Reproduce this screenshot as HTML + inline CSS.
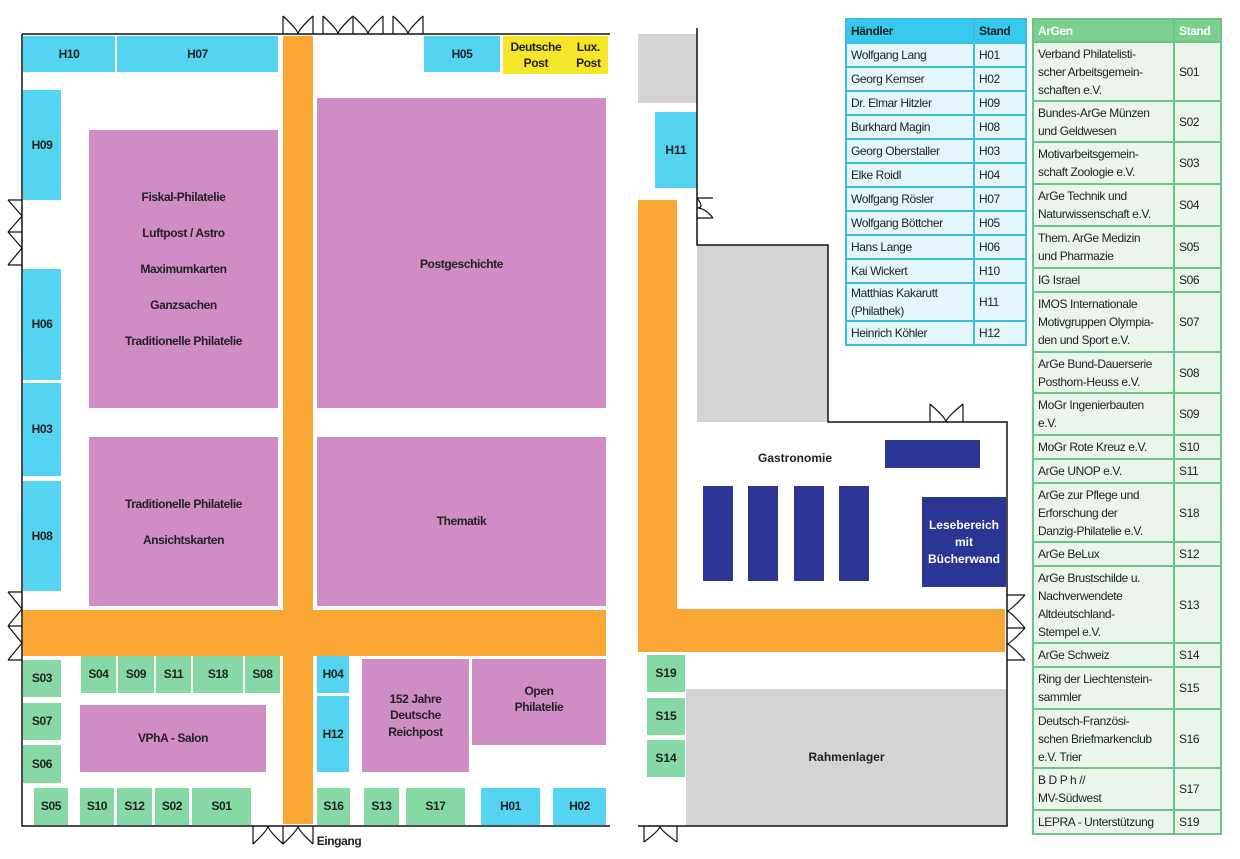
<!DOCTYPE html>
<html><head><meta charset="utf-8"><style>
body{margin:0;width:1240px;height:859px;background:#fff;position:relative;overflow:hidden;font-family:"Liberation Sans Narrow","Liberation Sans",sans-serif}
.b{position:absolute;display:flex;align-items:center;justify-content:center;text-align:center;font-weight:bold;font-size:12px;letter-spacing:-0.4px;color:#222;line-height:1.35}
.c{background:#55d4f2}.p{background:#d08cc4}.o{background:#f9a634}.g{background:#86d9a5}.y{background:#f5e62a}.n{background:#2b3593;color:#fff}.gr{background:#d4d4d6}
.w{font-family:"Liberation Sans",sans-serif;letter-spacing:0}
table{position:absolute;border-collapse:collapse;font-family:"Liberation Sans",sans-serif;font-size:12px;letter-spacing:-0.4px;color:#222}
td{padding:0 4px;line-height:18px;vertical-align:middle;white-space:nowrap}
#h td{border:2px solid #3cbde0;background:#e3f6fb}
#h tr:first-child td{background:#36c9ee;font-weight:bold}
#a td{border:2px solid #6cc585;background:#eaf6ec}
#a tr:first-child td{background:#7ccf8f;color:#fff;font-weight:bold}
</style></head><body>
<!-- left hall -->
<div class="b c" style="left:23px;top:36px;width:92px;height:36px">H10</div>
<div class="b c" style="left:117px;top:36px;width:161px;height:36px">H07</div>
<div class="b c" style="left:424px;top:36px;width:76px;height:36px">H05</div>
<div class="b y" style="left:503px;top:36px;width:105px;height:38px;justify-content:space-around">Deutsche<br>Post<span>Lux.<br>Post</span></div>
<div class="b o" style="left:283px;top:36px;width:30px;height:788px"></div>
<div class="b o" style="left:23px;top:610px;width:583px;height:46px"></div>
<div class="b c" style="left:23px;top:90px;width:38px;height:110px">H09</div>
<div class="b c" style="left:23px;top:269px;width:38px;height:111px">H06</div>
<div class="b c" style="left:23px;top:383px;width:38px;height:93px">H03</div>
<div class="b c" style="left:23px;top:481px;width:38px;height:110px">H08</div>
<div class="b p" style="left:89px;top:130px;width:189px;height:278px;line-height:36px">Fiskal-Philatelie<br>Luftpost / Astro<br>Maximumkarten<br>Ganzsachen<br>Traditionelle Philatelie</div>
<div class="b p" style="left:317px;top:98px;width:289px;height:310px;padding-top:22px;box-sizing:border-box">Postgeschichte</div>
<div class="b p" style="left:89px;top:437px;width:189px;height:169px;line-height:36px">Traditionelle Philatelie<br>Ansichtskarten</div>
<div class="b p" style="left:317px;top:437px;width:289px;height:169px">Thematik</div>
<div class="b g" style="left:23px;top:660px;width:38px;height:37px">S03</div>
<div class="b g" style="left:23px;top:703px;width:38px;height:37px">S07</div>
<div class="b g" style="left:23px;top:745px;width:38px;height:38px">S06</div>
<div class="b g" style="left:81px;top:656px;width:35px;height:37px">S04</div>
<div class="b g" style="left:118px;top:656px;width:36px;height:37px">S09</div>
<div class="b g" style="left:156px;top:656px;width:35px;height:37px">S11</div>
<div class="b g" style="left:193px;top:656px;width:50px;height:37px">S18</div>
<div class="b g" style="left:245px;top:656px;width:35px;height:37px">S08</div>
<div class="b p" style="left:80px;top:705px;width:186px;height:67px">VPhA - Salon</div>
<div class="b c" style="left:317px;top:656px;width:32px;height:37px">H04</div>
<div class="b c" style="left:317px;top:696px;width:32px;height:76px">H12</div>
<div class="b p" style="left:362px;top:659px;width:107px;height:113px">152 Jahre<br>Deutsche<br>Reichpost</div>
<div class="b p" style="left:472px;top:659px;width:134px;height:86px;align-items:flex-start"><div style="margin-top:24px">Open<br>Philatelie</div></div>
<div class="b g" style="left:34px;top:788px;width:34px;height:37px">S05</div>
<div class="b g" style="left:80px;top:788px;width:34px;height:37px">S10</div>
<div class="b g" style="left:117px;top:788px;width:35px;height:37px">S12</div>
<div class="b g" style="left:155px;top:788px;width:34px;height:37px">S02</div>
<div class="b g" style="left:192px;top:788px;width:59px;height:37px">S01</div>
<div class="b g" style="left:317px;top:788px;width:33px;height:37px">S16</div>
<div class="b g" style="left:364px;top:788px;width:35px;height:37px">S13</div>
<div class="b g" style="left:406px;top:788px;width:59px;height:37px">S17</div>
<div class="b c" style="left:481px;top:788px;width:59px;height:37px">H01</div>
<div class="b c" style="left:553px;top:788px;width:53px;height:37px">H02</div>
<div class="b" style="left:314px;top:832px;width:50px;height:18px">Eingang</div>
<!-- right hall -->
<div class="b gr" style="left:638px;top:34px;width:59px;height:69px"></div>
<div class="b c w" style="left:655px;top:112px;width:42px;height:76px">H11</div>
<div class="b o" style="left:638px;top:200px;width:39px;height:452px"></div>
<div class="b o" style="left:638px;top:609px;width:367px;height:43px"></div>
<div class="b gr" style="left:697px;top:245px;width:131px;height:177px"></div>
<div class="b w" style="left:740px;top:448px;width:110px;height:20px">Gastronomie</div>
<div class="b n" style="left:885px;top:440px;width:95px;height:28px"></div>
<div class="b n" style="left:703px;top:486px;width:30px;height:95px"></div>
<div class="b n" style="left:748px;top:486px;width:30px;height:95px"></div>
<div class="b n" style="left:794px;top:486px;width:30px;height:95px"></div>
<div class="b n" style="left:839px;top:486px;width:30px;height:95px"></div>
<div class="b n w" style="left:922px;top:497px;width:84px;height:90px;line-height:17px">Lesebereich<br>mit<br>Bücherwand</div>
<div class="b g w" style="left:647px;top:655px;width:38px;height:37px">S19</div>
<div class="b g w" style="left:647px;top:698px;width:38px;height:37px">S15</div>
<div class="b g w" style="left:647px;top:740px;width:38px;height:37px">S14</div>
<div class="b gr w" style="left:686px;top:689px;width:321px;height:137px">Rahmenlager</div>
<svg width="1240" height="859" style="position:absolute;left:0;top:0" fill="none" stroke="#111" stroke-width="1.5">
<path d="M22 34H610M22 34V826H610M697 28V245H828V422H1007V826H638"/>
<g stroke-width="1.2">
<path d="M283 16V34M313 16V34M283 16Q298 30 298 34Q298 30 313 16"/>
<path d="M323 16V34M353 16V34M383 16V34M323 16Q338 30 338 34Q338 30 353 16M353 16Q368 30 368 34Q368 30 383 16"/>
<path d="M393 16V34M423 16V34M393 16Q408 30 408 34Q408 30 423 16"/>
<path d="M8 200H22M8 232H22M8 265H22M8 200Q22 216 22 216Q22 216 8 232M8 232Q22 248 22 248Q22 248 8 265"/>
<path d="M8 592H22M8 626H22M8 660H22M8 592Q22 609 22 609Q22 609 8 626M8 626Q22 643 22 643Q22 643 8 660"/>
<path d="M253 844V826M283 844V826M313 844V826M253 844Q268 830 268 826M283 844Q268 830 268 826M283 844Q298 830 298 826M313 844Q298 830 298 826"/>
<path d="M697 198H713M697 218H713M697 198Q705 208 697 208Q705 208 713 218"/>
<path d="M930 404V422M963 404V422M930 404Q946 418 946 422Q946 418 963 404"/>
<path d="M1007 595H1025M1007 628H1025M1007 660H1025M1025 595Q1010 611 1007 611Q1010 611 1025 628M1025 628Q1010 644 1007 644Q1010 644 1025 660"/>
<path d="M644 842V826M677 842V826M644 842Q660 830 660 826Q660 830 677 842"/>
</g></svg>
<!-- tables -->
<table id="h" style="left:845px;top:18px;width:182px">
<tr style="height:24px"><td style="width:118px">Händler</td><td>Stand</td></tr>
<tr style="height:24px"><td>Wolfgang Lang</td><td>H01</td></tr>
<tr style="height:24px"><td>Georg Kemser</td><td>H02</td></tr>
<tr style="height:24px"><td>Dr. Elmar Hitzler</td><td>H09</td></tr>
<tr style="height:24px"><td>Burkhard Magin</td><td>H08</td></tr>
<tr style="height:24px"><td>Georg Oberstaller</td><td>H03</td></tr>
<tr style="height:24px"><td>Elke Roidl</td><td>H04</td></tr>
<tr style="height:24px"><td>Wolfgang Rösler</td><td>H07</td></tr>
<tr style="height:24px"><td>Wolfgang Böttcher</td><td>H05</td></tr>
<tr style="height:24px"><td>Hans Lange</td><td>H06</td></tr>
<tr style="height:24px"><td>Kai Wickert</td><td>H10</td></tr>
<tr style="height:38px"><td>Matthias Kakarutt<br>(Philathek)</td><td>H11</td></tr>
<tr style="height:24px"><td>Heinrich Köhler</td><td>H12</td></tr>
</table>
<table id="a" style="left:1032px;top:18px;width:190px">
<tr style="height:23px"><td style="width:131px">ArGen</td><td>Stand</td></tr>
<tr style="height:59px"><td>Verband Philatelisti-<br>scher Arbeitsgemein-<br>schaften e.V.</td><td>S01</td></tr>
<tr style="height:41px"><td>Bundes-ArGe Münzen<br>und Geldwesen</td><td>S02</td></tr>
<tr style="height:42px"><td>Motivarbeitsgemein-<br>schaft Zoologie e.V.</td><td>S03</td></tr>
<tr style="height:42px"><td>ArGe Technik und<br>Naturwissenschaft e.V.</td><td>S04</td></tr>
<tr style="height:42px"><td>Them. ArGe Medizin<br>und Pharmazie</td><td>S05</td></tr>
<tr style="height:24px"><td>IG Israel</td><td>S06</td></tr>
<tr style="height:60px"><td>IMOS Internationale<br>Motivgruppen Olympia-<br>den und Sport e.V.</td><td>S07</td></tr>
<tr style="height:41px"><td>ArGe Bund-Dauerserie<br>Posthorn-Heuss e.V.</td><td>S08</td></tr>
<tr style="height:42px"><td>MoGr Ingenierbauten<br>e.V.</td><td>S09</td></tr>
<tr style="height:24px"><td>MoGr Rote Kreuz e.V.</td><td>S10</td></tr>
<tr style="height:24px"><td>ArGe UNOP e.V.</td><td>S11</td></tr>
<tr style="height:59px"><td>ArGe zur Pflege und<br>Erforschung der<br>Danzig-Philatelie e.V.</td><td>S18</td></tr>
<tr style="height:24px"><td>ArGe BeLux</td><td>S12</td></tr>
<tr style="height:77px"><td>ArGe Brustschilde u.<br>Nachverwendete<br>Altdeutschland-<br>Stempel e.V.</td><td>S13</td></tr>
<tr style="height:24px"><td>ArGe Schweiz</td><td>S14</td></tr>
<tr style="height:42px"><td>Ring der Liechtenstein-<br>sammler</td><td>S15</td></tr>
<tr style="height:59px"><td>Deutsch-Französi-<br>schen Briefmarkenclub<br>e.V. Trier</td><td>S16</td></tr>
<tr style="height:42px"><td>B D P h  //<br>MV-Südwest</td><td>S17</td></tr>
<tr style="height:24px"><td>LEPRA - Unterstützung</td><td>S19</td></tr>
</table>
</body></html>
